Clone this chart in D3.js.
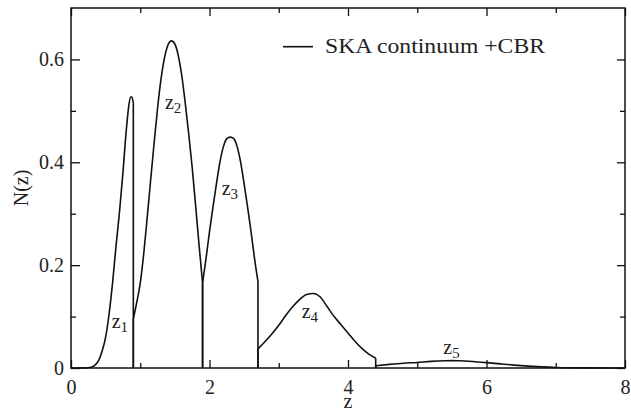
<!DOCTYPE html>
<html>
<head>
<meta charset="utf-8">
<script src="https://cdn.jsdelivr.net/npm/d3@7"></script>
<style>
  html, body { margin: 0; padding: 0; background: #fff; }
  svg text { font-family: "Liberation Serif"; fill: #222; }
</style>
</head>
<body>
<svg id="chart" width="631" height="411"></svg>
<script>
// ---- data ----
const binEdges = [0, 0.9, 1.9, 2.7, 4.4, 8];

const bin1z = [0.00, 0.20, 0.30, 0.35, 0.40, 0.45, 0.50, 0.55, 0.60, 0.65, 0.70, 0.75, 0.80, 0.83, 0.86, 0.88, 0.90];
const bin1N = [0, 0.0002, 0.002, 0.006, 0.015, 0.033, 0.060, 0.105, 0.165, 0.237, 0.303, 0.380, 0.465, 0.505, 0.527, 0.527, 0.515];

const bin2z = [0.90, 0.95, 1.00, 1.05, 1.10, 1.15, 1.20, 1.25, 1.30, 1.35, 1.40, 1.45, 1.50, 1.55, 1.60, 1.65, 1.70, 1.75, 1.80, 1.85, 1.90];
const bin2N = [0.095, 0.128, 0.165, 0.222, 0.292, 0.365, 0.437, 0.505, 0.562, 0.603, 0.628, 0.636, 0.630, 0.607, 0.568, 0.515, 0.455, 0.390, 0.315, 0.238, 0.165];

const bin3z = [1.90, 1.95, 2.00, 2.05, 2.10, 2.15, 2.20, 2.25, 2.30, 2.35, 2.40, 2.45, 2.50, 2.55, 2.60, 2.65, 2.70];
const bin3N = [0.165, 0.213, 0.265, 0.313, 0.358, 0.400, 0.430, 0.446, 0.449, 0.446, 0.430, 0.400, 0.358, 0.313, 0.265, 0.213, 0.168];

const bin4z = [2.70, 2.80, 2.90, 3.00, 3.10, 3.20, 3.30, 3.40, 3.50, 3.60, 3.70, 3.80, 3.90, 4.00, 4.10, 4.20, 4.30, 4.40];
const bin4N = [0.037, 0.051, 0.066, 0.083, 0.102, 0.119, 0.133, 0.143, 0.145, 0.138, 0.119, 0.100, 0.084, 0.068, 0.052, 0.038, 0.027, 0.019];

const bin5z = [4.40, 4.60, 4.80, 5.00, 5.20, 5.40, 5.50, 5.60, 5.80, 6.00, 6.20, 6.40, 6.60, 6.80, 7.00, 7.50, 8.00];
const bin5N = [0.0045, 0.007, 0.0092, 0.0108, 0.0128, 0.0140, 0.0143, 0.0141, 0.0127, 0.0105, 0.0080, 0.0056, 0.0036, 0.0021, 0.0011, 0.0002, 0];

const binLabels = ["z", "z", "z", "z", "z"];
const binSubs = ["1", "2", "3", "4", "5"];
const binLabelZ = [0.588, 1.357, 2.176, 3.331, 5.376];
const binLabelN = [0.078, 0.503, 0.337, 0.097, 0.027];

const xMajorTicks = [0, 2, 4, 6, 8];
const xMinorTicks = [1, 3, 5, 7];
const yMajorTicks = [0, 0.2, 0.4, 0.6];
const yMinorTicks = [0.1, 0.3, 0.5];
const yTickLabels = ["0", "0.2", "0.4", "0.6"];

const legendLabel = "SKA continuum +CBR";
const xTitle = "z";
const yTitle = "N(z)";

// ---- layout ----
const svg = d3.select("#chart");
const L = 71, R = 625, T = 8, B = 368;
const x = d3.scaleLinear().domain([0, 8]).range([L, R]);
const y = d3.scaleLinear().domain([0, 0.7]).range([B, T]);
const ink = "#111";
const fs = 20;
const FONT = "Liberation Serif";

// series: smooth curve inside each bin, vertical edges at the bin limits
const smooth = d3.line().x(d => x(d[0])).y(d => y(d[1])).curve(d3.curveMonotoneX);
const straight = d3.line().x(d => x(d[0])).y(d => y(d[1]));
const bins = [[bin1z, bin1N], [bin2z, bin2N], [bin3z, bin3N], [bin4z, bin4N], [bin5z, bin5N]];
bins.forEach((b, i) => {
  const pts = b[0].map((z, j) => [z, b[1][j]]);
  const lo = binEdges[i], hi = binEdges[i + 1];
  let d = "";
  if (pts[0][1] !== 0) d += straight([[lo, 0], pts[0]]);
  d += smooth(pts);
  const last = pts[pts.length - 1];
  if (last[1] !== 0) d += straight([last, [hi, 0]]);
  svg.append("path").attr("d", d).attr("fill", "none")
    .attr("stroke", ink).attr("stroke-width", 1.6)
    .attr("stroke-linejoin", "round");
});

// axes (ticks inward)
function styleAxis(g) {
  g.attr("font-family", FONT);
  g.select(".domain").remove();
  g.selectAll(".tick line").attr("stroke", ink).attr("stroke-width", 1.3);
  g.selectAll("text").attr("font-size", fs).attr("font-family", FONT).attr("fill", "#222");
}
svg.append("g").attr("transform", `translate(0,${B})`)
  .call(d3.axisBottom(x).tickValues(xMajorTicks).tickFormat(d3.format("d")).tickSize(-8).tickPadding(12))
  .call(styleAxis);
svg.append("g").attr("transform", `translate(0,${B})`)
  .call(d3.axisBottom(x).tickValues(xMinorTicks).tickFormat("").tickSize(-5))
  .call(styleAxis);
svg.append("g").attr("transform", `translate(0,${T})`)
  .call(d3.axisTop(x).tickValues(xMajorTicks).tickFormat("").tickSize(-8))
  .call(styleAxis);
svg.append("g").attr("transform", `translate(0,${T})`)
  .call(d3.axisTop(x).tickValues(xMinorTicks).tickFormat("").tickSize(-5))
  .call(styleAxis);
svg.append("g").attr("transform", `translate(${L},0)`)
  .call(d3.axisLeft(y).tickValues(yMajorTicks).tickFormat((d, i) => yTickLabels[i]).tickSize(-9).tickPadding(7))
  .call(styleAxis);
svg.append("g").attr("transform", `translate(${L},0)`)
  .call(d3.axisLeft(y).tickValues(yMinorTicks).tickFormat("").tickSize(-5))
  .call(styleAxis);
svg.append("g").attr("transform", `translate(${R},0)`)
  .call(d3.axisRight(y).tickValues(yMajorTicks).tickFormat("").tickSize(-8))
  .call(styleAxis);
svg.append("g").attr("transform", `translate(${R},0)`)
  .call(d3.axisRight(y).tickValues(yMinorTicks).tickFormat("").tickSize(-5))
  .call(styleAxis);

// frame
svg.append("rect").attr("x", L).attr("y", T).attr("width", R - L).attr("height", B - T)
  .attr("fill", "none").attr("stroke", ink).attr("stroke-width", 1.5);

// bin labels
binLabels.forEach((t, i) => {
  const tx = svg.append("text").attr("x", x(binLabelZ[i])).attr("y", y(binLabelN[i]))
    .attr("font-family", FONT).attr("font-size", fs);
  tx.append("tspan").text(t);
  tx.append("tspan").attr("dy", 4).attr("font-size", 15).text(binSubs[i]);
});

// axis titles
svg.append("text").attr("x", (L + R) / 2).attr("y", 408).attr("text-anchor", "middle")
  .attr("font-family", FONT).attr("font-size", fs).text(xTitle);
svg.append("text").attr("transform", `translate(28,${(T + B) / 2}) rotate(-90)`)
  .attr("text-anchor", "middle").attr("font-family", FONT).attr("font-size", fs).text(yTitle);

// legend
svg.append("line").attr("x1", 283).attr("x2", 313).attr("y1", 46.7).attr("y2", 46.7)
  .attr("stroke", ink).attr("stroke-width", 1.6);
svg.append("text").attr("x", 325).attr("y", 53.3).attr("font-family", FONT).attr("font-size", fs)
  .attr("textLength", 220).attr("lengthAdjust", "spacingAndGlyphs").text(legendLabel);
</script>
</body>
</html>
